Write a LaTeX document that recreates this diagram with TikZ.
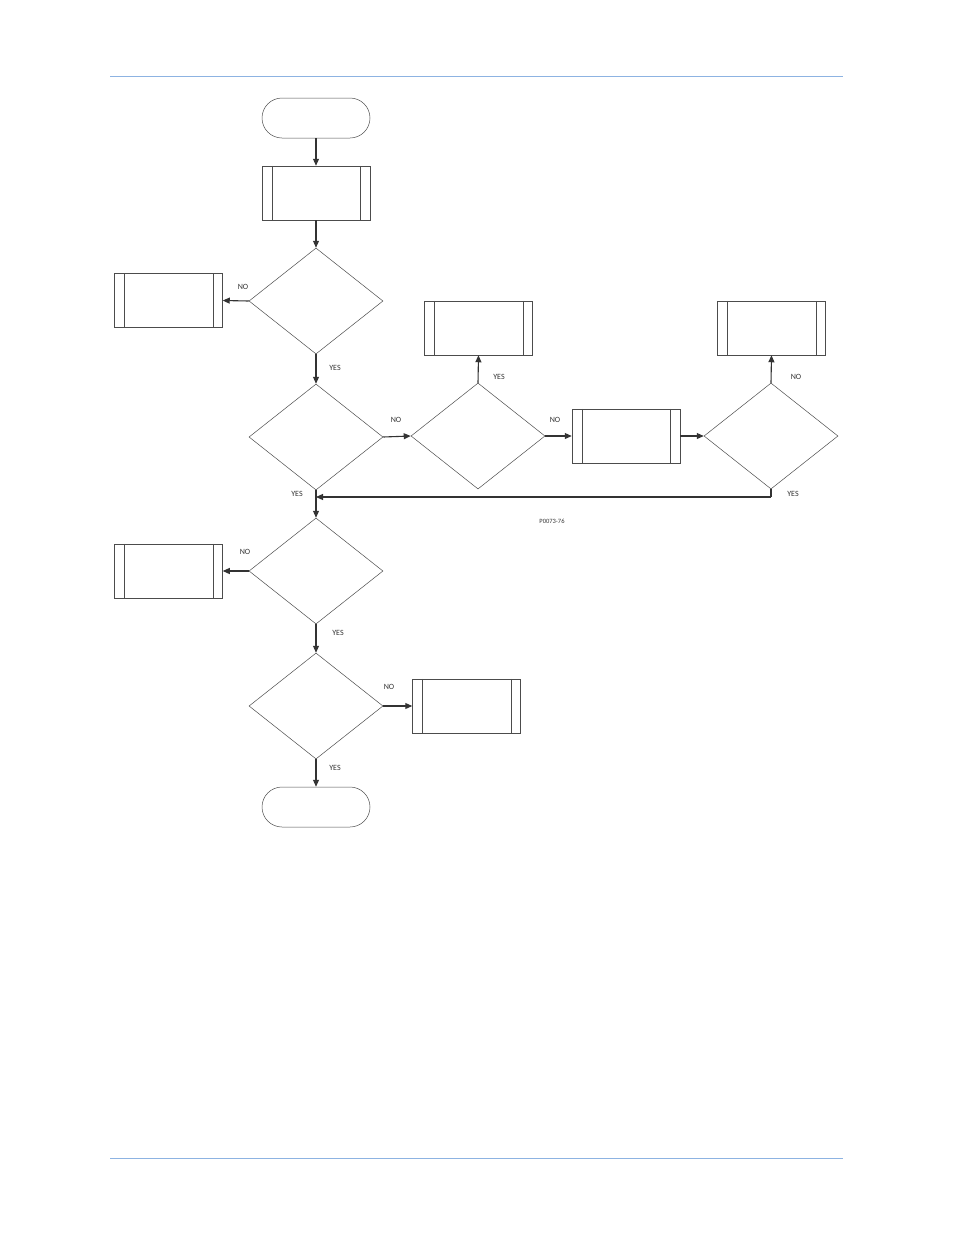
\documentclass[tikz,border=0pt]{standalone}
\usepackage{fontspec}
\setmainfont{Carlito}
\usetikzlibrary{shapes.geometric,arrows.meta}
\begin{document}
\begin{tikzpicture}[x=1pt,y=-1pt,
 line/.style={draw=black!70,line width=0.5pt},
 arr/.style={draw=black!80,line width=1.1pt,-{Triangle[length=7pt,width=6pt]}},
 dia/.style={draw=black!70,line width=0.5pt,diamond,aspect=1.26,minimum width=134pt,minimum height=106pt,inner sep=0pt},
 term/.style={draw=black!70,line width=0.5pt,rounded corners=20pt,minimum width=108pt,minimum height=40pt},
 pbox/.style={draw=black!70,line width=0.5pt,minimum width=108pt,minimum height=54pt},
 lab/.style={font=\fontsize{8}{9}\selectfont,text=black!80,inner sep=0pt}]
\useasboundingbox (0,0) rectangle (954,1235);
\draw[draw={rgb,255:red,141;green,179;blue,226},line width=0.8pt] (110,76)--(843,76);
\draw[draw={rgb,255:red,141;green,179;blue,226},line width=0.8pt] (110,1158)--(843,1158);
\newcommand{\pb}[3]{\node[pbox] (#1) at (#2,#3) {};
 \draw[line] ([xshift=10pt]#1.north west)--([xshift=10pt]#1.south west);
 \draw[line] ([xshift=-10pt]#1.north east)--([xshift=-10pt]#1.south east);}
\node[term] (start) at (316,118) {};
\pb{p1}{316}{193}
\node[dia] (d1) at (316,301) {};
\pb{b1}{168.5}{300.5}
\node[dia] (d2) at (316,437) {};
\node[dia] (d3) at (478,436) {};
\pb{b3}{478.5}{328}
\pb{bm}{626}{436}
\node[dia] (d4) at (771,436) {};
\pb{b4}{771.5}{328}
\node[dia] (d5) at (316,571) {};
\pb{b5}{168.5}{571}
\node[dia] (d6) at (316,706) {};
\pb{b6}{466.5}{706}
\node[term] (end) at (316,807) {};
\coordinate (j) at (316,497);
\coordinate (c4) at (771,497);
\draw[arr] (start)--(p1);
\draw[arr] (p1)--(d1);
\draw[arr] (d1.west)--(b1.east);
\draw[arr] (d1.south)--(d2.north);
\draw[arr] (d2.east)--(d3.west);
\draw[arr] (d3.north)--(b3.south);
\draw[arr] (d3.east)--(bm.west);
\draw[arr] (bm.east)--(d4.west);
\draw[arr] (d4.north)--(b4.south);
\draw[line,line width=1.1pt,draw=black!80] (d4.south)--(c4);
\draw[arr] (c4)--(j);
\draw[line,line width=1.1pt,draw=black!80] (d2.south)--(j);
\draw[arr] (j)--(d5.north);
\draw[arr] (d5.west)--(b5.east);
\draw[arr] (d5.south)--(d6.north);
\draw[arr] (d6.east)--(b6.west);
\draw[arr] (d6.south)--(end);
\node[lab] (l1) at (243,287) {NO};
\node[lab] (l2) at (335,368) {YES};
\node[lab] (l3) at (396,420) {NO};
\node[lab] (l4) at (499,377) {YES};
\node[lab] (l5) at (555,420) {NO};
\node[lab] (l6) at (796,377) {NO};
\node[lab] (l7) at (297,494) {YES};
\node[lab] (l8) at (793,494) {YES};
\node[lab,font=\fontsize{6.5}{8}\selectfont] (l9) at (552,521) {P0073-76};
\node[lab] (l10) at (245,552) {NO};
\node[lab] (l11) at (338,633) {YES};
\node[lab] (l12) at (389,687) {NO};
\node[lab] (l13) at (335,768) {YES};
\end{tikzpicture}
\end{document}
